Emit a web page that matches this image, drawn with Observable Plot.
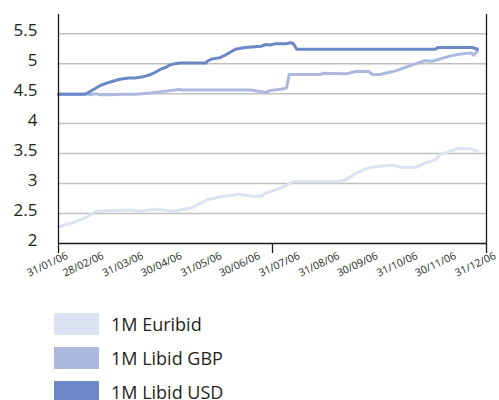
<!DOCTYPE html>
<html>
<head>
<meta charset="utf-8">
<script src="https://cdn.jsdelivr.net/npm/d3@7"></script>
<script src="https://cdn.jsdelivr.net/npm/@observablehq/plot@0.6"></script>
<style>
  html, body { margin: 0; padding: 0; background: #fff; }
  body { width: 499px; height: 400px; overflow: hidden; font-family: "Open Sans", sans-serif; }
  #legend { margin-top: 13px; }
  .row { display: flex; align-items: center; height: 22px; margin-bottom: 12px; }
  .sw { width: 45px; height: 22px; margin-left: 54px; flex: none; }
  .lb { margin-left: 12px; font-size: 18px; line-height: 15px; color: #231f20; }
</style>
</head>
<body>
<div id="chart"></div>
<div id="legend"></div>
<script>
// ---- data ----
const seriesNames = ["1M Euribid", "1M Libid GBP", "1M Libid USD"];
const seriesColors = ["#dbe2f2", "#abb9de", "#6b87c6"];

const euribidDates = ["2006-01-31","2006-02-05","2006-02-13","2006-02-23","2006-03-01","2006-03-27","2006-04-05","2006-04-17","2006-04-30","2006-05-06","2006-05-14","2006-05-22","2006-05-27","2006-06-03","2006-06-06","2006-06-22","2006-06-30","2006-07-08","2006-07-12","2006-07-19","2006-07-27","2006-08-02","2006-09-06","2006-09-12","2006-09-20","2006-09-28","2006-10-05","2006-10-19","2006-10-25","2006-11-06","2006-11-13","2006-11-21","2006-11-25","2006-12-03","2006-12-07","2006-12-19","2006-12-24"];
const euribidValues = [2.28,2.31,2.36,2.45,2.54,2.56,2.54,2.57,2.54,2.56,2.59,2.67,2.73,2.76,2.78,2.82,2.79,2.79,2.84,2.89,2.96,3.03,3.03,3.06,3.17,3.25,3.28,3.31,3.27,3.27,3.34,3.40,3.49,3.54,3.58,3.58,3.54];

const gbpDates = ["2006-01-31","2006-02-17","2006-02-21","2006-02-25","2006-03-01","2006-03-05","2006-03-13","2006-03-20","2006-04-01","2006-04-13","2006-04-21","2006-04-28","2006-05-05","2006-05-08","2006-06-30","2006-07-06","2006-07-12","2006-07-15","2006-07-26","2006-07-28","2006-07-30","2006-08-23","2006-08-26","2006-09-12","2006-09-20","2006-09-30","2006-10-03","2006-10-09","2006-10-13","2006-10-21","2006-10-29","2006-11-06","2006-11-13","2006-11-19","2006-11-25","2006-12-03","2006-12-11","2006-12-19","2006-12-21","2006-12-24"];
const gbpValues = [4.49,4.49,4.50,4.48,4.50,4.48,4.48,4.49,4.49,4.51,4.53,4.55,4.57,4.56,4.56,4.54,4.52,4.55,4.58,4.60,4.82,4.82,4.84,4.83,4.87,4.87,4.82,4.82,4.84,4.88,4.94,5.00,5.05,5.04,5.08,5.13,5.16,5.18,5.14,5.21];

const usdDates = ["2006-01-31","2006-02-21","2006-02-25","2006-03-01","2006-03-05","2006-03-09","2006-03-15","2006-03-20","2006-03-27","2006-04-01","2006-04-07","2006-04-13","2006-04-17","2006-04-21","2006-04-25","2006-04-28","2006-05-02","2006-05-06","2006-05-26","2006-05-27","2006-05-31","2006-06-06","2006-06-10","2006-06-14","2006-06-18","2006-06-26","2006-07-08","2006-07-12","2006-07-15","2006-07-19","2006-07-27","2006-07-31","2006-08-02","2006-08-05","2006-11-21","2006-11-23","2006-12-20","2006-12-24"];
const usdValues = [4.49,4.49,4.54,4.59,4.64,4.67,4.71,4.74,4.76,4.76,4.78,4.82,4.86,4.91,4.94,4.98,5.00,5.01,5.01,5.04,5.08,5.10,5.14,5.19,5.24,5.27,5.29,5.32,5.31,5.33,5.33,5.35,5.34,5.24,5.24,5.27,5.27,5.24];

const xTickLabels = ["2006-01-31","2006-02-28","2006-03-31","2006-04-30","2006-05-31","2006-06-30","2006-07-31","2006-08-31","2006-09-30","2006-10-31","2006-11-30","2006-12-31"];
const xTickMarks = ["2006-01-31","2006-07-17","2006-12-31"];
const yTicks = [2, 2.5, 3, 3.5, 4, 4.5, 5, 5.5];
const yGrid = [2.5, 3, 3.5, 4, 4.5, 5, 5.5];

// ---- build ----
const parse = s => new Date(s + "T00:00:00Z");
const mk = (dates, vals, name) => dates.map((d, i) => ({date: parse(d), value: vals[i], series: name}));
const data = [
  ...mk(euribidDates, euribidValues, seriesNames[0]),
  ...mk(gbpDates, gbpValues, seriesNames[1]),
  ...mk(usdDates, usdValues, seriesNames[2])
];
const fmt = d3.utcFormat("%d/%m/%y");
const xStart = parse(xTickLabels[0]);
const xEnd = parse(xTickLabels[xTickLabels.length - 1]);

const chart = Plot.plot({
  width: 499,
  height: 300,
  marginLeft: 58,
  marginRight: 13,
  marginTop: 14,
  marginBottom: 57,
  style: {fontFamily: "'Open Sans', sans-serif", color: "#231f20", background: "#fff"},
  x: {type: "utc", domain: [xStart, xEnd]},
  y: {domain: [2, 5.82]},
  color: {domain: seriesNames, range: seriesColors},
  marks: [
    Plot.ruleY(yGrid, {stroke: "#c0c0c0", strokeWidth: 1.5}),
    Plot.line(data, {x: "date", y: "value", z: "series", stroke: "series", strokeWidth: 3, strokeLinejoin: "round"}),
    Plot.ruleY([2], {stroke: "#1a1a1a", strokeWidth: 1.3}),
    Plot.ruleX([xStart, xEnd], {stroke: "#1a1a1a", strokeWidth: 1.3}),
    Plot.axisY({ticks: yTicks, label: null, tickSize: 0, tickPadding: 21, tickFormat: d => `${d}`, fontSize: 17, dy: -3, fill: "#231f20"}),
    Plot.axisX({ticks: xTickMarks.map(parse), label: null, tickSize: 10, tickFormat: () => "", stroke: "#1a1a1a", strokeWidth: 1.3}),
    Plot.text(xTickLabels.map(parse), {x: d => d, y: () => 2, text: d => fmt(d), rotate: -25, textAnchor: "end", lineAnchor: "top", dx: 7, dy: 8, fontSize: 10.5, fill: "#231f20"})
  ]
});
document.getElementById("chart").appendChild(chart);

const legend = document.getElementById("legend");
seriesNames.forEach((n, i) => {
  const row = document.createElement("div");
  row.className = "row";
  row.innerHTML = `<div class="sw" style="background:${seriesColors[i]}"></div><div class="lb">${n}</div>`;
  legend.appendChild(row);
});
</script>
</body>
</html>
